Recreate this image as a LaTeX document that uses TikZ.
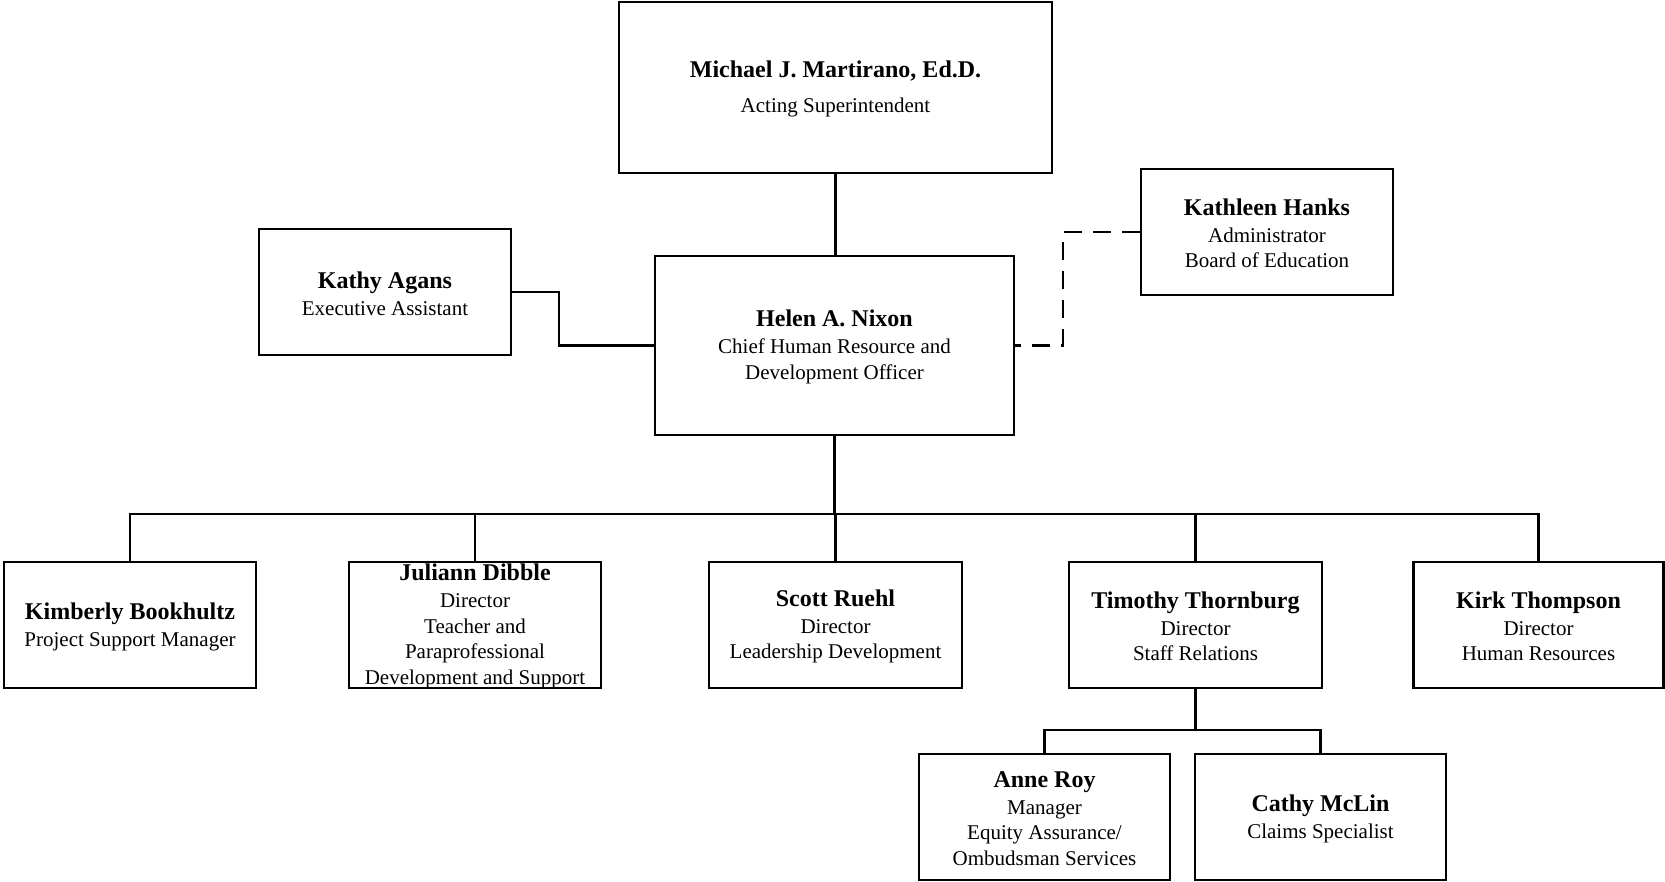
\documentclass[tikz,border=0pt]{standalone}
\usepackage{fontspec}
\setmainfont{Liberation Serif}
\newcommand\nm[1]{{\fontsize{24}{27}\selectfont\bfseries #1}}
\tikzset{
  box/.style={draw, line width=2.6pt, inner sep=0pt,
    minimum width=252pt, minimum height=126pt},
  txt/.style={inner sep=0pt, align=center, yshift=-1.5pt,
    font=\fontsize{21}{25.5}\selectfont},
  link/.style={line width=2.6pt},
  dlink/.style={line width=2.6pt, dash pattern=on 18pt off 11pt}
}
\begin{document}
\begin{tikzpicture}[x=1pt,y=-1pt]
\useasboundingbox (0,0) rectangle (1665,882);
% boxes
\node[box, minimum width=433pt, minimum height=171pt] (top) at (835.5,87.5) {};
\node[box] (kathy) at (385,292) {};
\node[box, minimum width=359pt, minimum height=179pt] (helen) at (834.5,345.5) {};
\node[box] (kathleen) at (1267,232) {};
\node[box] (kim) at (130,625) {};
\node[box] (julian) at (475,625) {};
\node[box, minimum width=253pt] (scott) at (835.5,625) {};
\node[box, minimum width=253pt] (tim) at (1195.5,625) {};
\node[box, minimum width=250pt] (kirk) at (1538.5,625) {};
\node[box, minimum width=251pt] (anne) at (1044.5,817) {};
\node[box, minimum width=251pt] (cathy) at (1320.5,817) {};
% texts
\node[txt] (top-t) at (top) {\nm{Michael J. Martirano, Ed.D.}\\[9pt]Acting Superintendent};
\node[txt] (kathy-t) at (kathy) {\nm{Kathy Agans}\\[1.5pt]Executive Assistant};
\node[txt] (helen-t) at (helen) {\nm{Helen A. Nixon}\\[1.5pt]Chief Human Resource and\\Development Officer};
\node[txt] (kathleen-t) at (kathleen) {\nm{Kathleen Hanks}\\[1.5pt]Administrator\\Board of Education};
\node[txt] (kim-t) at (kim) {\nm{Kimberly Bookhultz}\\[1.5pt]Project Support Manager};
\node[txt] (julian-t) at (julian) {\nm{Juliann Dibble}\\[1.5pt]Director\\Teacher and\\Paraprofessional\\Development and Support};
\node[txt] (scott-t) at (scott) {\nm{Scott Ruehl}\\[1.5pt]Director\\Leadership Development};
\node[txt] (tim-t) at (tim) {\nm{Timothy Thornburg}\\[1.5pt]Director\\Staff Relations};
\node[txt] (kirk-t) at (kirk) {\nm{Kirk Thompson}\\[1.5pt]Director\\Human Resources};
\node[txt] (anne-t) at (anne) {\nm{Anne Roy}\\[1.5pt]Manager\\Equity Assurance/\\Ombudsman Services};
\node[txt] (cathy-t) at (cathy) {\nm{Cathy McLin}\\[1.5pt]Claims Specialist};
% helper coordinates
\coordinate (kx) at (559,0);
\coordinate (dx) at (1063,0);
\coordinate (bus) at (0,514);
\coordinate (sub) at (0,730);
% connectors
\draw[link] (top.south) -- (top.south |- helen.north);
\draw[link] (kathy.east) -- (kx |- kathy.east) -- (kx |- helen.west) -- (helen.west);
\draw[dlink] (kathleen.west) -- (dx |- kathleen.west) -- (dx |- helen.east) -- (helen.east);
\draw[link] (helen.south) -- (helen.south |- bus);
\draw[link] (kim.north) -- (kim.north |- bus) -- (kirk.north |- bus) -- (kirk.north);
\draw[link] (julian.north) -- (julian.north |- bus);
\draw[link] (scott.north) -- (scott.north |- bus);
\draw[link] (tim.north) -- (tim.north |- bus);
\draw[link] (tim.south) -- (tim.south |- sub);
\draw[link] (anne.north) -- (anne.north |- sub) -- (cathy.north |- sub) -- (cathy.north);
\end{tikzpicture}
\end{document}
